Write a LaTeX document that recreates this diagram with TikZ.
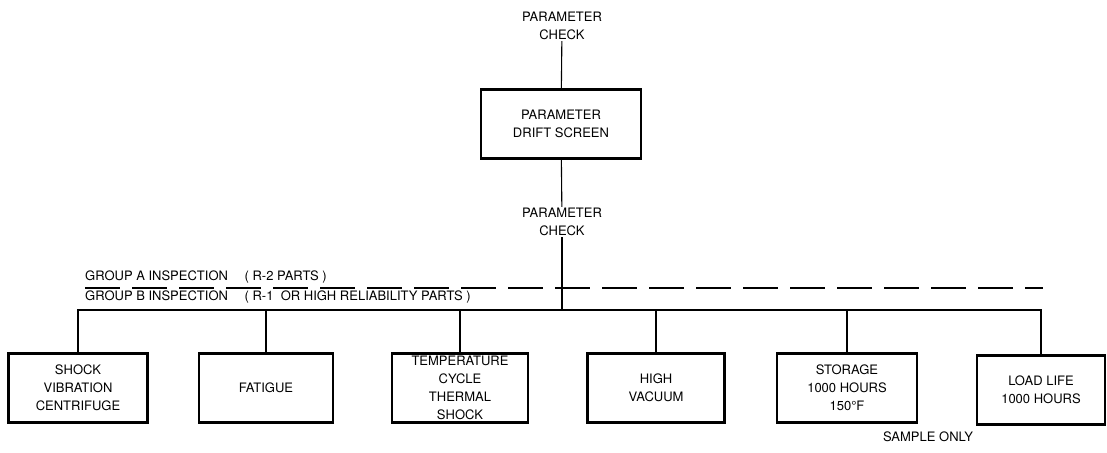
\documentclass[tikz,border=0pt]{standalone}
\usepackage{fontspec}
\setmainfont{TeX Gyre Heros}
\usetikzlibrary{positioning}

\tikzset{
  testbox/.style={draw, line width=2.6pt, minimum height=69pt, inner ysep=0pt, align=center},
  chktext/.style={align=center, inner sep=1pt},
  feed/.style={line width=1.1pt},
}

\begin{document}
\begin{tikzpicture}[x=1pt, y=-1pt, font=\fontsize{13}{18}\selectfont]
  \useasboundingbox (0,0) rectangle (1107,452);
  % top of the chart
  \node[chktext] (pc1) at (562,26) {PARAMETER\\CHECK};
  \node[testbox, minimum width=160pt] (drift) at (561,124) {PARAMETER\\DRIFT SCREEN};
  \node[chktext] (pc2) at (562,222) {PARAMETER\\CHECK};
  \coordinate (bus) at (562,310);
  \draw[feed] (pc1) -- (drift);
  \draw[feed] (drift) -- (pc2);
  \draw[feed] (pc2) -- (bus);

  % inspection groups
  \coordinate (dashL) at (85,288);
  \coordinate (dashR) at (1043,288);
  \draw[line width=2pt, dash pattern=on 35pt off 12pt] (dashL) -- (dashR);
  \node[anchor=south west, inner sep=0pt] (grpA) at (85,283) {GROUP A INSPECTION\quad\ ( R-2 PARTS )};
  \node[anchor=north west, inner sep=0pt] (grpB) at (85,291) {GROUP B INSPECTION\quad\ ( R-1\ \ OR HIGH RELIABILITY PARTS )};

  % tests
  \node[testbox, minimum width=139pt] (b1) at (78,388) {SHOCK\\VIBRATION\\CENTRIFUGE};
  \node[testbox, minimum width=134pt] (b2) at (266,388) {FATIGUE};
  \node[testbox, minimum width=136pt] (b3) at (460,388) {TEMPERATURE\\CYCLE\\THERMAL\\SHOCK};
  \node[testbox, minimum width=137pt] (b4) at (656,388) {HIGH\\VACUUM};
  \node[testbox, minimum width=140pt] (b5) at (847,388) {STORAGE\\1000 HOURS\\150°F};
  \node[testbox, minimum width=128pt] (b6) at (1041,390) {LOAD LIFE\\1000 HOURS};
  \node[chktext] (sample) at (928,437) {SAMPLE ONLY};

  \draw[feed] (b1.north) -- (b1.north |- bus) -- (b6.north |- bus) -- (b6.north);
  \foreach \b in {b2,b3,b4,b5}
    \draw[feed] (\b.north) -- (\b.north |- bus);
\end{tikzpicture}
\end{document}
